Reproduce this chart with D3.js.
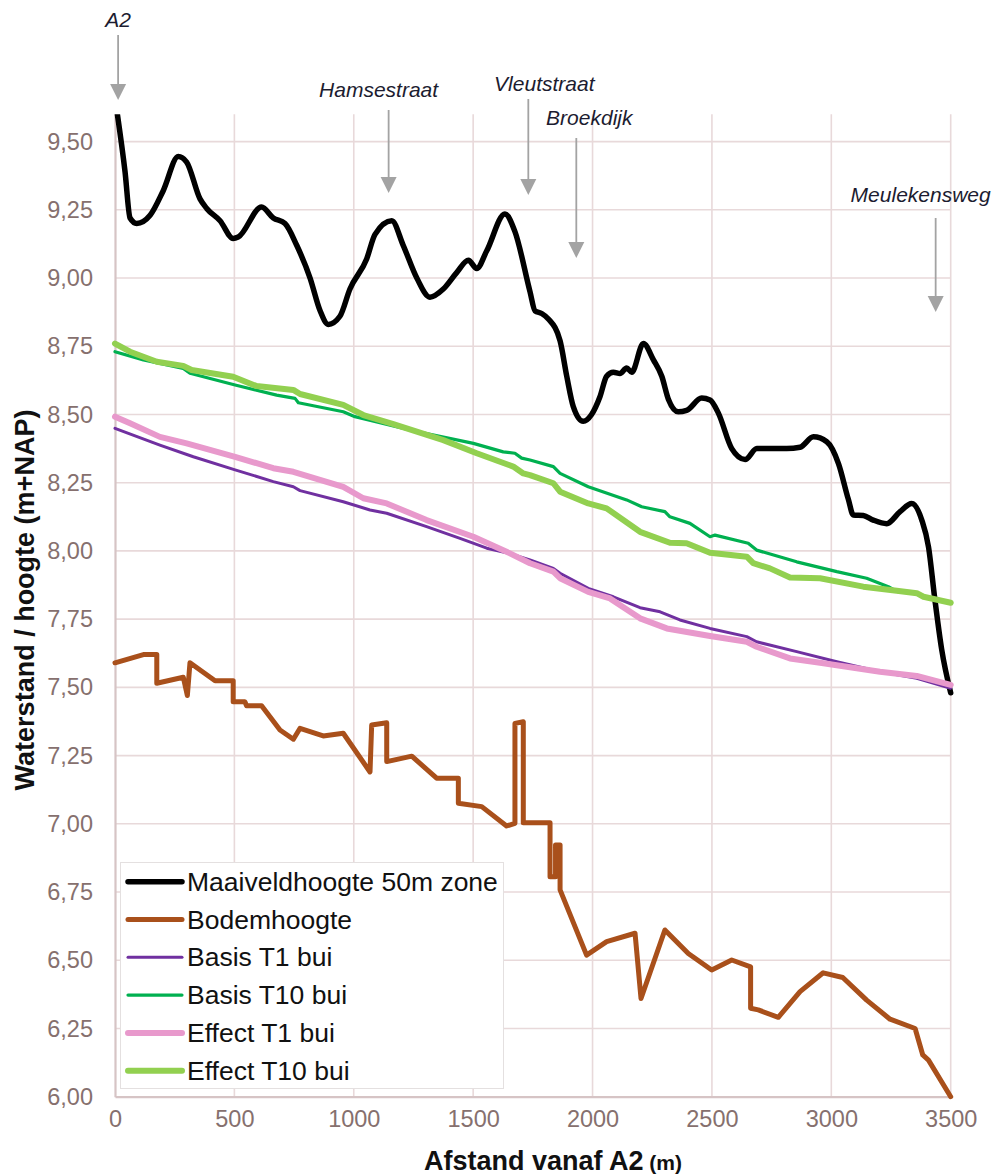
<!DOCTYPE html>
<html lang="nl">
<head>
    <meta charset="UTF-8">
    <title>Waterstand / hoogte langs watergang</title>
    <script src="https://d3js.org/d3.v7.min.js"></script>
    <style>
        body { margin: 0; background: #fff; }
        svg { display: block; font-family: "Liberation Sans", Arial, sans-serif; }
    </style>
</head>
<body>
<script>

    // ---- data (afstand in m, hoogte in m+NAP) ----
    var maaiveld = [
        [10, 9.60], [42, 9.39], [63, 9.22], [91, 9.20], [147, 9.23], [202, 9.32], [265, 9.445],
        [300, 9.425], [356, 9.29], [384, 9.255], [440, 9.21], [495, 9.145], [516, 9.15],
        [614, 9.26], [663, 9.22], [712, 9.20], [761, 9.12], [817, 9.00], [859, 8.88],
        [893, 8.83], [942, 8.86], [984, 8.96], [1054, 9.07], [1089, 9.16], [1159, 9.21],
        [1207, 9.12], [1264, 9.00], [1319, 8.93], [1375, 8.96], [1431, 9.02], [1480, 9.065],
        [1515, 9.035], [1557, 9.10], [1633, 9.235], [1675, 9.17], [1738, 8.95], [1759, 8.88],
        [1787, 8.87], [1815, 8.85], [1864, 8.77], [1892, 8.64], [1919, 8.53], [1961, 8.475],
        [1996, 8.50], [2031, 8.565], [2059, 8.64], [2087, 8.655], [2115, 8.65], [2143, 8.67],
        [2164, 8.655], [2213, 8.76], [2255, 8.70], [2290, 8.64], [2318, 8.555], [2359, 8.51],
        [2394, 8.515], [2457, 8.56], [2492, 8.553], [2527, 8.505], [2583, 8.375], [2639, 8.335],
        [2688, 8.375], [2757, 8.375], [2813, 8.375], [2869, 8.38], [2925, 8.418], [2981, 8.40],
        [3030, 8.32], [3071, 8.19], [3092, 8.132], [3134, 8.13], [3176, 8.113], [3232, 8.10],
        [3288, 8.144], [3337, 8.174], [3379, 8.113], [3407, 8.015], [3434, 7.82], [3462, 7.64],
        [3500, 7.48]
    ]

    var bodem = [
        [0, 7.59], [119, 7.62], [175, 7.62], [175, 7.515], [286, 7.537], [303, 7.47], [314, 7.59],
        [419, 7.524], [495, 7.524], [495, 7.447], [544, 7.447], [551, 7.433], [614, 7.433],
        [691, 7.344], [747, 7.31], [775, 7.35], [872, 7.322], [956, 7.332], [1068, 7.19],
        [1075, 7.362], [1138, 7.37], [1138, 7.228], [1243, 7.248], [1347, 7.167], [1438, 7.167],
        [1438, 7.075], [1536, 7.063], [1640, 6.992], [1675, 7.002], [1675, 7.368], [1710, 7.374],
        [1710, 7.004], [1822, 7.004], [1822, 6.806], [1845, 6.806], [1845, 6.922], [1864, 6.922],
        [1864, 6.758], [1975, 6.519], [2059, 6.568], [2178, 6.599], [2203, 6.36], [2303, 6.611],
        [2401, 6.525], [2499, 6.464], [2583, 6.501], [2662, 6.476], [2662, 6.324], [2694, 6.318],
        [2778, 6.291], [2869, 6.385], [2966, 6.454], [3048, 6.437], [3148, 6.354], [3246, 6.284],
        [3351, 6.25], [3383, 6.153], [3407, 6.134], [3500, 6.00]
    ]

    var basisT1 = [
        [0, 8.449], [188, 8.388], [328, 8.345], [503, 8.297], [663, 8.254], [747, 8.235],
        [775, 8.221], [956, 8.18], [1068, 8.15], [1138, 8.138], [1305, 8.089], [1445, 8.046],
        [1557, 8.01], [1654, 7.99], [1738, 7.967], [1836, 7.936], [1864, 7.918], [1982, 7.863],
        [2087, 7.832], [2199, 7.792], [2283, 7.777], [2366, 7.747], [2492, 7.716], [2646, 7.686],
        [2687, 7.667], [2855, 7.631], [3023, 7.594], [3204, 7.557], [3358, 7.533], [3500, 7.497]
    ]

    var basisT10 = [
        [0, 8.73], [119, 8.70], [286, 8.669], [314, 8.651], [503, 8.608], [677, 8.571],
        [754, 8.559], [768, 8.543], [956, 8.51], [1005, 8.492], [1235, 8.443], [1501, 8.394],
        [1626, 8.363], [1675, 8.358], [1703, 8.34], [1738, 8.333], [1836, 8.309], [1864, 8.284],
        [1982, 8.235], [2143, 8.187], [2206, 8.162], [2303, 8.144], [2324, 8.125], [2408, 8.101],
        [2492, 8.052], [2513, 8.058], [2652, 8.028], [2687, 8.003], [2855, 7.96], [3023, 7.924],
        [3148, 7.90], [3239, 7.869], [3274, 7.852], [3358, 7.843], [3386, 7.830], [3500, 7.808]
    ]

    var effectT1 = [
        [0, 8.492], [63, 8.468], [188, 8.418], [300, 8.394], [503, 8.345], [663, 8.303],
        [747, 8.29], [956, 8.235], [1040, 8.193], [1138, 8.174], [1305, 8.113], [1501, 8.052],
        [1654, 7.991], [1738, 7.955], [1836, 7.924], [1864, 7.90], [1982, 7.85], [2073, 7.826],
        [2199, 7.753], [2311, 7.716], [2492, 7.688], [2646, 7.667], [2687, 7.649], [2827, 7.606],
        [2953, 7.59], [3204, 7.557], [3358, 7.542], [3500, 7.509]
    ]

    var effectT10 = [
        [0, 8.76], [63, 8.73], [175, 8.693], [286, 8.678], [321, 8.663], [495, 8.638],
        [593, 8.604], [747, 8.59], [775, 8.575], [956, 8.535], [1040, 8.498], [1166, 8.465],
        [1375, 8.406], [1515, 8.358], [1668, 8.309], [1710, 8.284], [1738, 8.278], [1836, 8.248],
        [1864, 8.217], [1982, 8.174], [2059, 8.156], [2199, 8.07], [2324, 8.03], [2394, 8.028],
        [2492, 7.993], [2646, 7.979], [2673, 7.955], [2743, 7.936], [2827, 7.903], [2953, 7.90],
        [3134, 7.869], [3274, 7.854], [3358, 7.845], [3386, 7.832], [3500, 7.81]
    ]

    var series = [
        {name: "Maaiveldhoogte 50m zone", values: maaiveld, color: "#000000", width: 5.5, smooth: true},
        {name: "Bodemhoogte", values: bodem, color: "#a9501b", width: 5},
        {name: "Basis T1 bui", values: basisT1, color: "#7030a0", width: 3},
        {name: "Basis T10 bui", values: basisT10, color: "#00b050", width: 3.2},
        {name: "Effect T1 bui", values: effectT1, color: "#e899cc", width: 6},
        {name: "Effect T10 bui", values: effectT10, color: "#92d050", width: 6}
    ]

    var xTicks = [0, 500, 1000, 1500, 2000, 2500, 3000, 3500]
    var yTicks = [6.00, 6.25, 6.50, 6.75, 7.00, 7.25, 7.50, 7.75, 8.00, 8.25, 8.50, 8.75, 9.00, 9.25, 9.50]

    // straten boven de grafiek: naam en afstand (m)
    var streets = ["A2", "Hamsestraat", "Vleutstraat", "Broekdijk", "Meulekensweg"]
    var streetDist = [13, 1146, 1731, 1932, 3437]

    // ---- layout ----
    var width = 993
    var height = 1175
    var m = {left: 115, right: 42.3, top: 114.3, bottom: 78.3}

    var svg = d3.select("body").append("svg")
        .attr("width", width)
        .attr("height", height)

    var x = d3.scaleLinear()
        .domain([0, 3500])
        .range([m.left, width - m.right])
    var y = d3.scaleLinear()
        .domain([6, 9.6])
        .range([height - m.bottom, m.top])

    var fmt = function (d) { return d3.format(".2f")(d).replace(".", ",") }

    // grid
    svg.append("g")
        .selectAll("line")
        .data(yTicks.slice(1))
        .join("line")
        .attr("x1", x(0)).attr("x2", x(3500))
        .attr("y1", d => y(d)).attr("y2", d => y(d))
        .attr("stroke", "#e8d9da").attr("stroke-width", 1.6)

    svg.append("g")
        .selectAll("line")
        .data(xTicks.slice(1))
        .join("line")
        .attr("x1", d => x(d)).attr("x2", d => x(d))
        .attr("y1", y(9.6)).attr("y2", y(6))
        .attr("stroke", "#e8d9da").attr("stroke-width", 1.6)

    // axes (no tick marks)
    var yAxis = svg.append("g")
        .attr("transform", "translate(" + m.left + ",0)")
        .call(d3.axisLeft(y).tickValues(yTicks).tickFormat(fmt).tickSize(0).tickPadding(22))
    var xAxis = svg.append("g")
        .attr("transform", "translate(0," + y(6) + ")")
        .call(d3.axisBottom(x).tickValues(xTicks).tickFormat(d3.format("d")).tickSize(0).tickPadding(14))

    ;[yAxis, xAxis].forEach(function (a) {
        a.select(".domain").attr("stroke", "#d6c4c5").attr("stroke-width", 2.2)
        a.selectAll("text")
            .attr("fill", "#86706e")
            .attr("font-size", 23.5)
            .attr("font-family", "Liberation Sans, Arial, sans-serif")
    })

    // axis titles
    svg.append("text")
        .attr("transform", "translate(34," + 600 + ") rotate(-90)")
        .attr("text-anchor", "middle")
        .attr("font-size", 27)
        .attr("font-weight", "bold")
        .attr("fill", "#111")
        .text("Waterstand / hoogte (m+NAP)")

    var xt = svg.append("text")
        .attr("x", 553)
        .attr("y", 1170)
        .attr("text-anchor", "middle")
        .attr("font-weight", "bold")
        .attr("fill", "#111")
    xt.append("tspan").attr("font-size", 27).text("Afstand vanaf A2")
    xt.append("tspan").attr("font-size", 21).text(" (m)")

    // series
    var clip = svg.append("clipPath").attr("id", "plot")
        .append("rect")
        .attr("x", x(0) - 6).attr("y", y(9.6))
        .attr("width", x(3500) - x(0) + 12).attr("height", y(6) - y(9.6) + 6)

    var plot = svg.append("g").attr("clip-path", "url(#plot)")

    series.forEach(function (s) {
        var line = d3.line()
            .x(d => x(d[0]))
            .y(d => y(d[1]))
            .curve(s.smooth ? d3.curveMonotoneX : d3.curveLinear)
        plot.append("path")
            .datum(s.values)
            .attr("d", line)
            .attr("fill", "none")
            .attr("stroke", s.color)
            .attr("stroke-width", s.width)
            .attr("stroke-linejoin", "round")
            .attr("stroke-linecap", "round")
    })

    // legend
    var lg = svg.append("g")
    lg.append("rect")
        .attr("x", 120.5).attr("y", 862.5)
        .attr("width", 383).attr("height", 226)
        .attr("fill", "#fff")
        .attr("stroke", "#e4e0e0").attr("stroke-width", 1)

    series.forEach(function (s, i) {
        var cy = 881.7 + i * 37.8
        lg.append("line")
            .attr("x1", 128).attr("x2", 182)
            .attr("y1", cy).attr("y2", cy)
            .attr("stroke", s.color)
            .attr("stroke-width", s.width)
            .attr("stroke-linecap", "round")
        lg.append("text")
            .attr("x", 187)
            .attr("y", cy + 9)
            .attr("font-size", 26.5)
            .attr("fill", "#111")
            .text(s.name)
    })

    // street annotations: text dx, text baseline, arrow start, arrow tip (px)
    var annLayout = [
        [0, 27, 35, 100],
        [-10, 97, 110, 193],
        [16, 91, 99, 195],
        [13, 125, 138, 258],
        [-15, 202, 218, 312]
    ]

    streets.forEach(function (name, i) {
        var ax = x(streetDist[i])
        var L = annLayout[i]
        svg.append("text")
            .attr("x", ax + L[0])
            .attr("y", L[1])
            .attr("text-anchor", "middle")
            .attr("font-size", 21)
            .attr("font-style", "italic")
            .attr("fill", "#1c1c30")
            .text(name)
        svg.append("line")
            .attr("x1", ax).attr("x2", ax)
            .attr("y1", L[2]).attr("y2", L[3] - 14)
            .attr("stroke", "#a3a3a3")
            .attr("stroke-width", 1.8)
        svg.append("path")
            .attr("d", "M" + (ax - 8) + "," + (L[3] - 16) + "L" + (ax + 8) + "," + (L[3] - 16) + "L" + ax + "," + L[3] + "Z")
            .attr("fill", "#a3a3a3")
    })

</script>
</body>
</html>
